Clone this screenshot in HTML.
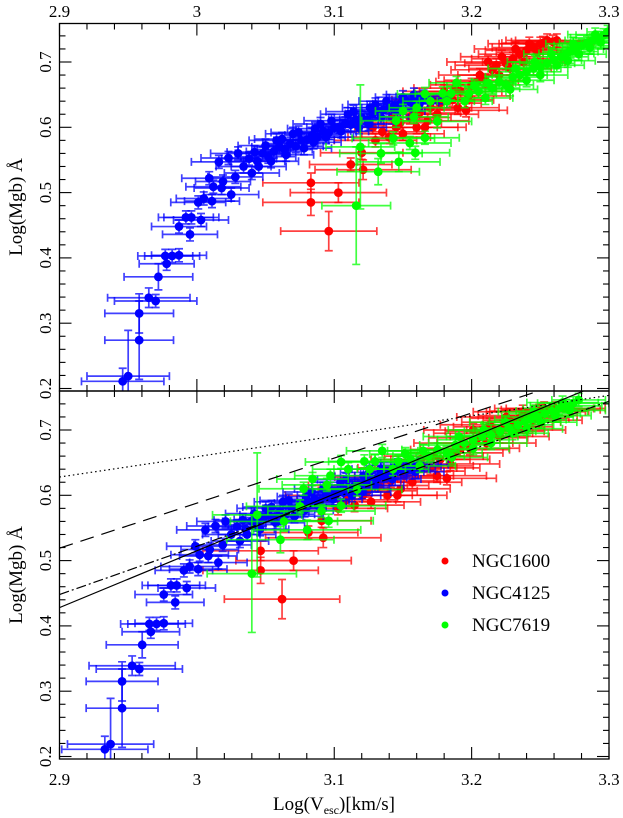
<!DOCTYPE html>
<html><head><meta charset="utf-8">
<style>
html,body{margin:0;padding:0;background:#fff;}
svg{display:block;font-family:"Liberation Serif",serif;}
</style></head>
<body>
<svg id="chart" width="623" height="818" viewBox="0 0 623 818" xmlns="http://www.w3.org/2000/svg">
  <g id="top-panel"></g>
  <g id="bottom-panel"></g>
  <text x="334" y="810" text-anchor="middle" font-size="19">Log(V<tspan font-size="12" dy="4">esc</tspan><tspan dy="-4">)[km/s]</tspan></text>
  <text transform="translate(22,207) rotate(-90)" text-anchor="middle" font-size="19">Log(Mgb)  Å</text>
  <text transform="translate(22,575) rotate(-90)" text-anchor="middle" font-size="19">Log(Mgb)  Å</text>
  <g>
    <circle cx="445" cy="561" r="3.5" fill="#f00"/>
    <text x="472" y="567" font-size="19">NGC1600</text>
    <circle cx="445" cy="593" r="3.5" fill="#00f"/>
    <text x="472" y="599" font-size="19">NGC4125</text>
    <circle cx="445" cy="625" r="3.5" fill="#0f0"/>
    <text x="472" y="631" font-size="19">NGC7619</text>
  </g>
</svg>
<script>
// ---- data: [logVesc, logMgb, errX, errY] ----
const ngc4125 = [
[2.946,0.211,0.03,0.02],[2.950,0.219,0.03,0.07],[2.958,0.274,0.025,0.06],[2.958,0.315,0.025,0.03],[2.965,0.339,0.03,0.015],[2.970,0.334,0.03,0.01],
[2.972,0.371,0.025,0.02],[2.978,0.391,0.02,0.01],[2.977,0.403,0.02,0.01],[2.982,0.403,0.02,0.01],[2.987,0.404,0.02,0.01],[2.987,0.448,0.02,0.01],
[2.995,0.436,0.02,0.01],[2.992,0.462,0.02,0.01],[2.996,0.462,0.02,0.01],[3.003,0.458,0.02,0.01],[3.001,0.485,0.02,0.01],[3.005,0.491,0.02,0.01],
[3.011,0.487,0.02,0.01],[3.012,0.509,0.02,0.01],[3.018,0.507,0.02,0.01],[3.009,0.522,0.02,0.01],[3.019,0.517,0.02,0.01],[3.025,0.497,0.02,0.01],
[3.016,0.547,0.02,0.01],[3.023,0.553,0.02,0.01],[3.030,0.560,0.02,0.01],[3.028,0.524,0.02,0.01],[3.040,0.530,0.02,0.01],[3.034,0.540,0.02,0.01],
[3.038,0.552,0.02,0.01],[3.044,0.548,0.02,0.01],[3.048,0.560,0.02,0.01],[3.052,0.555,0.02,0.01],[3.056,0.563,0.02,0.01],[3.060,0.570,0.02,0.01],
[3.064,0.566,0.02,0.01],[3.068,0.575,0.02,0.01],[3.072,0.571,0.02,0.01],[3.076,0.580,0.02,0.01],[3.080,0.581,0.02,0.01],[3.084,0.588,0.02,0.01],
[3.088,0.585,0.02,0.01],[3.092,0.594,0.02,0.01],[3.096,0.592,0.02,0.01],[3.100,0.600,0.02,0.01],[3.104,0.601,0.02,0.01],[3.108,0.606,0.02,0.01],
[3.112,0.604,0.02,0.01],[3.116,0.612,0.02,0.01],[3.120,0.615,0.02,0.01],[3.124,0.612,0.02,0.01],[3.128,0.621,0.02,0.01],[3.132,0.624,0.02,0.01],
[3.136,0.627,0.02,0.01],[3.140,0.630,0.02,0.01],[3.144,0.633,0.02,0.01],[3.148,0.636,0.02,0.01],[3.152,0.640,0.02,0.01],[3.156,0.638,0.02,0.01],
[3.160,0.644,0.02,0.01],[3.165,0.647,0.02,0.01],[3.058,0.580,0.02,0.01],[3.070,0.590,0.02,0.01],[3.090,0.605,0.02,0.01],[3.110,0.620,0.02,0.01],
[3.130,0.635,0.02,0.01],[3.045,0.540,0.02,0.01],[3.065,0.558,0.02,0.01],[3.085,0.577,0.02,0.01],[3.105,0.594,0.02,0.01],[3.125,0.605,0.02,0.01],
[3.050,0.572,0.02,0.01],[3.062,0.582,0.02,0.01],[3.074,0.592,0.02,0.01],[3.086,0.598,0.02,0.01],[3.098,0.610,0.02,0.01],[3.114,0.624,0.02,0.01],
[3.126,0.630,0.02,0.01],[3.138,0.640,0.02,0.01],[3.150,0.646,0.02,0.01],[3.158,0.650,0.02,0.01],[3.042,0.562,0.02,0.01],[3.054,0.548,0.02,0.01],
[3.078,0.568,0.02,0.01],[3.094,0.585,0.02,0.01],[3.118,0.600,0.02,0.01],[3.134,0.615,0.02,0.01],[3.146,0.625,0.02,0.01],[3.162,0.636,0.02,0.01]
];
const ngc1600 = [
[3.083,0.515,0.035,0.015],[3.103,0.500,0.035,0.015],[3.083,0.485,0.035,0.02],[3.096,0.441,0.035,0.03],[3.112,0.543,0.03,0.01],[3.121,0.535,0.035,0.015],
[3.120,0.561,0.03,0.01],[3.135,0.593,0.03,0.01],[3.130,0.580,0.03,0.01],[3.128,0.600,0.03,0.01],[3.140,0.585,0.03,0.01],[3.145,0.600,0.03,0.01],
[3.148,0.607,0.03,0.01],[3.150,0.590,0.03,0.01],[3.155,0.615,0.03,0.01],[3.160,0.600,0.03,0.01],[3.162,0.622,0.03,0.01],[3.168,0.610,0.03,0.01],
[3.170,0.630,0.03,0.01],[3.177,0.637,0.03,0.01],[3.175,0.620,0.03,0.01],[3.182,0.645,0.03,0.01],[3.186,0.642,0.03,0.01],[3.190,0.630,0.03,0.01],
[3.192,0.655,0.03,0.01],[3.196,0.626,0.03,0.01],[3.200,0.665,0.03,0.01],[3.206,0.680,0.03,0.01],[3.210,0.672,0.03,0.01],[3.215,0.688,0.03,0.01],
[3.220,0.680,0.03,0.01],[3.225,0.698,0.03,0.01],[3.230,0.705,0.03,0.01],[3.235,0.712,0.03,0.01],[3.240,0.718,0.03,0.01],[3.245,0.722,0.03,0.01],
[3.250,0.728,0.03,0.01],[3.252,0.729,0.03,0.01],[3.255,0.733,0.03,0.01],[3.259,0.731,0.03,0.01],[3.262,0.733,0.03,0.01],[3.238,0.700,0.03,0.01],
[3.228,0.690,0.03,0.01],[3.248,0.715,0.03,0.01],[3.218,0.695,0.03,0.01],[3.198,0.648,0.03,0.01],[3.180,0.655,0.03,0.01],
[3.142,0.615,0.03,0.01],[3.158,0.628,0.03,0.01],[3.172,0.642,0.03,0.01],[3.188,0.660,0.03,0.01],[3.204,0.670,0.03,0.01],[3.222,0.708,0.03,0.01],
[3.242,0.728,0.03,0.01],[3.232,0.720,0.03,0.01],[3.212,0.700,0.03,0.01],[3.166,0.600,0.03,0.01]
];
const ngc7619 = [
[3.116,0.480,0.025,0.09],[3.119,0.570,0.025,0.095],[3.132,0.532,0.03,0.02],[3.134,0.560,0.03,0.015],[3.147,0.547,0.03,0.015],[3.159,0.561,0.025,0.01],
[3.143,0.583,0.03,0.01],[3.155,0.576,0.03,0.01],[3.166,0.584,0.025,0.01],[3.145,0.610,0.025,0.01],[3.175,0.609,0.025,0.01],[3.158,0.616,0.025,0.01],
[3.166,0.651,0.02,0.01],[3.179,0.652,0.02,0.01],[3.185,0.652,0.02,0.01],[3.202,0.663,0.02,0.01],[3.189,0.668,0.02,0.01],[3.210,0.645,0.02,0.01],
[3.195,0.640,0.02,0.01],[3.205,0.655,0.02,0.01],[3.215,0.660,0.02,0.01],[3.220,0.670,0.02,0.01],[3.225,0.665,0.02,0.01],[3.230,0.677,0.02,0.01],
[3.235,0.680,0.02,0.01],[3.240,0.685,0.02,0.01],[3.245,0.690,0.02,0.01],[3.250,0.692,0.02,0.01],[3.255,0.698,0.02,0.01],[3.260,0.703,0.02,0.01],
[3.265,0.708,0.02,0.01],[3.269,0.713,0.02,0.01],[3.272,0.716,0.02,0.01],[3.276,0.720,0.02,0.01],[3.280,0.725,0.02,0.01],[3.284,0.729,0.02,0.01],
[3.288,0.733,0.02,0.01],[3.292,0.737,0.02,0.01],[3.296,0.741,0.02,0.01],[3.299,0.746,0.015,0.01],[3.262,0.695,0.02,0.01],[3.270,0.702,0.02,0.01],
[3.278,0.712,0.02,0.01],[3.286,0.722,0.02,0.01],[3.294,0.730,0.02,0.01],[3.250,0.680,0.02,0.01],[3.240,0.672,0.02,0.01],[3.228,0.658,0.02,0.01],
[3.150,0.625,0.02,0.01],[3.160,0.630,0.02,0.01],[3.170,0.640,0.02,0.01],
[3.182,0.640,0.02,0.01],[3.198,0.652,0.02,0.01],[3.212,0.668,0.02,0.01],[3.232,0.690,0.02,0.01],[3.258,0.712,0.02,0.01],[3.274,0.728,0.02,0.01],
[3.290,0.742,0.02,0.01],[3.246,0.700,0.02,0.01]
];
// bottom panel x recalibration per galaxy: [refTop, refBottom, stretch]
const recalBlue = [2.946, 2.933, 1.046];
const recalRed = [3.096, 3.062, 1.2];
const recalGreen = [3.116, 3.040, 1.3];
// reference relations: [y at x=2.9, slope]
const lineDotted = [0.628, 0.3125];
const lineDashed = [0.519, 0.69];
const lineDashDot = [0.448, 0.74];
const lineSolid = [0.428, 0.87];
const xTicks = [2.9, 3.0, 3.1, 3.2, 3.3];
const xTickLabels = ["2.9", "3", "3.1", "3.2", "3.3"];
const yTicks = [0.2, 0.3, 0.4, 0.5, 0.6, 0.7];
const yTickLabels = ["0.2", "0.3", "0.4", "0.5", "0.6", "0.7"];

const NS = "http://www.w3.org/2000/svg";
const X0 = 59.5, X1 = 609, XMIN = 2.9, XMAX = 3.3;
function sx(v){ return X0 + (v - XMIN) / (XMAX - XMIN) * (X1 - X0); }
const panels = [
  {g: document.getElementById('top-panel'), top: 23.5, bottom: 391, y07: 62, name: 'top'},
  {g: document.getElementById('bottom-panel'), top: 391, bottom: 759, y07: 430, name: 'bottom'}
];
function mk(tag, attrs, parent){
  const e = document.createElementNS(NS, tag);
  for (const k in attrs) e.setAttribute(k, attrs[k]);
  parent.appendChild(e);
  return e;
}
panels.forEach(p => {
  p.sy = v => p.y07 - (v - 0.7) * 653;
  const clipId = 'clip-' + p.name;
  const defs = mk('defs', {}, p.g);
  const cp = mk('clipPath', {id: clipId}, defs);
  mk('rect', {x: X0, y: p.top, width: X1 - X0, height: p.bottom - p.top}, cp);
  p.plot = mk('g', {'clip-path': 'url(#' + clipId + ')'}, p.g);
  
  
});

function drawSeries(p, data, color, name, recal){
  const g = mk('g', {}, p.plot);
  
  
  data.forEach((d, i) => {
    let x = d[0];
    let exL = d[0] - d[2], exR = d[0] + d[2];
    if (recal) {
      x = recal[1] + recal[2] * (d[0] - recal[0]);
      exL = recal[1] + recal[2] * (exL - recal[0]);
      exR = recal[1] + recal[2] * (exR - recal[0]);
    }
    const cx = sx(x), cy = p.sy(d[1]);
    const xl = sx(exL), xr = sx(exR), yt = p.sy(d[1] + d[3]), yb = p.sy(d[1] - d[3]);
    const eb = mk('path', {d: `M${xl},${cy}H${xr}M${xl},${cy-4}V${cy+4}M${xr},${cy-4}V${cy+4}M${cx},${yt}V${yb}M${cx-4},${yt}H${cx+4}M${cx-4},${yb}H${cx+4}`,
      stroke: color, 'stroke-width': 1.7, 'stroke-opacity': 0.75, fill: 'none'}, g);
    
    
    const c = mk('circle', {cx: cx, cy: cy, r: 4.4, fill: color}, g);
    
    
  });
}

panels.forEach((p, pi) => {
  const bottomRecal = pi === 1;
  drawSeries(p, ngc1600, '#ff0000', 'ngc1600', bottomRecal ? recalRed : null);
  drawSeries(p, ngc4125, '#0000ff', 'ngc4125', bottomRecal ? recalBlue : null);
  drawSeries(p, ngc7619, '#00ff00', 'ngc7619', bottomRecal ? recalGreen : null);
  if (bottomRecal) {
    const lines = [[lineDotted, '1.5,3', 'dotted-relation'], [lineDashed, '14,8', 'dashed-relation'],
                   [lineDashDot, '10,3,2,3', 'dashdot-relation'], [lineSolid, '', 'solid-relation']];
    lines.forEach(L => {
      const ln = mk('line', {x1: sx(2.9), y1: p.sy(L[0][0]), x2: sx(3.3), y2: p.sy(L[0][0] + L[0][1] * 0.4),
        stroke: '#000', 'stroke-width': 1.2, 'stroke-dasharray': L[1]}, p.plot);
      
      
    });
  }
  const fr = mk('rect', {x: X0, y: p.top, width: X1 - X0, height: p.bottom - p.top, fill: 'none', stroke: '#000', 'stroke-width': 1.3}, p.g);
  
  
  const tg = mk('g', {stroke: '#000', 'stroke-width': 1.1}, p.g);
  
  
  for (let k = 0; k <= 20; k++) {
    const v = XMIN + k * 0.02, xp = sx(v), len = (k % 5 === 0) ? 12 : 6;
    mk('line', {x1: xp, y1: p.top, x2: xp, y2: p.top + len}, tg);
    mk('line', {x1: xp, y1: p.bottom, x2: xp, y2: p.bottom - len}, tg);
  }
  for (let k = 0; k <= 28; k++) {
    const v = 0.18 + k * 0.02, yp = p.sy(v);
    if (yp < p.top + 0.5 || yp > p.bottom - 0.5) continue;
    const len = (Math.round(v * 100) % 10 === 0) ? 12 : 6;
    mk('line', {x1: X0, y1: yp, x2: X0 + len, y2: yp}, tg);
    mk('line', {x1: X1, y1: yp, x2: X1 - len, y2: yp}, tg);
  }
  yTicks.forEach((v, i) => {
    const t = mk('text', {transform: `translate(51,${p.sy(v)}) rotate(-90)`, 'text-anchor': 'middle', 'font-size': 17}, p.g);
    t.textContent = yTickLabels[i];
    
    
  });
});
const svg = document.getElementById('chart');
xTicks.forEach((v, i) => {
  const t1 = mk('text', {x: sx(v), y: 17, 'text-anchor': 'middle', 'font-size': 17}, svg);
  t1.textContent = xTickLabels[i];
  
  
  const t2 = mk('text', {x: sx(v), y: 785, 'text-anchor': 'middle', 'font-size': 17}, svg);
  t2.textContent = xTickLabels[i];
  
  
});
</script>
</body></html>
